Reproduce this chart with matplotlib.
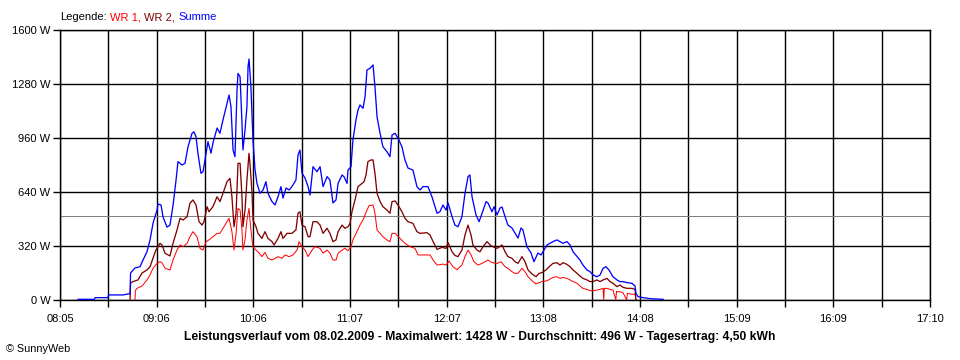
import numpy as np
import matplotlib
matplotlib.use("Agg")
import matplotlib.pyplot as plt

plt.rcParams['font.family'] = ['Liberation Sans', 'DejaVu Sans']

# time axis: minutes after 08:05, axis runs until 17:10
span = 545
x_labels = ["08:05", "09:06", "10:06", "11:07", "12:07", "13:08", "14:08", "15:09", "16:09", "17:10"]
y_ticks = [0, 320, 640, 960, 1280, 1600]
average = 496

# Summe (blue)
t_sum = [11.3, 21.5, 22.0, 30.0, 30.5, 39.5, 42.6, 43.9, 44.2, 47.0,
         50.1, 52.0, 54.5, 56.4, 58.3, 60.8, 61.4, 63.3, 64.5, 67.0,
         68.9, 70.8, 72.7, 73.9, 76.4, 78.3, 80.2, 82.7, 83.9, 85.2,
         86.4, 88.3, 89.6, 90.8, 92.7, 94.6, 95.8, 98.4, 100.2, 102.1,
         104.6, 105.9, 107.1, 108.4, 109.6, 110.9, 111.5, 112.8, 114.0, 114.6,
         115.9, 117.1, 117.8, 118.4, 119.6, 120.9, 122.2, 123.4, 125.3, 127.2,
         129.0, 130.3, 132.8, 134.7, 136.6, 138.4, 139.7, 141.6, 143.5, 145.3,
         147.8, 149.1, 150.3, 151.6, 153.5, 155.4, 156.6, 158.5, 161.0, 162.9,
         164.8, 167.3, 169.1, 171.0, 172.9, 174.2, 176.7, 177.9, 179.8, 180.4,
         182.3, 183.5, 185.4, 186.7, 187.9, 189.8, 191.1, 192.3, 194.2, 196.1,
         197.3, 198.6, 200.5, 202.3, 204.8, 206.7, 208.0, 209.9, 211.7, 214.2,
         216.1, 218.0, 221.1, 223.6, 225.5, 227.4, 230.5, 233.0, 236.2, 238.0,
         239.9, 241.8, 243.1, 245.6, 247.4, 249.3, 251.8, 253.7, 255.6, 256.8,
         258.1, 260.6, 262.5, 264.4, 266.9, 268.1, 270.6, 271.9, 273.8, 275.6,
         276.9, 278.8, 280.6, 283.1, 285.0, 286.9, 288.8, 290.0, 292.5, 295.1,
         296.9, 299.4, 301.3, 302.6, 305.1, 307.0, 308.8, 311.3, 313.2, 315.1,
         317.6, 319.5, 321.4, 323.9, 325.7, 327.6, 330.1, 332.0, 333.9, 336.4,
         338.3, 340.2, 342.0, 343.9, 346.4, 348.9, 350.8, 352.7, 355.2, 358.3,
         360.2, 360.8, 362.1, 365.2, 369.6, 377.8]
p_sum = [4, 4, 14, 14, 30, 30, 36, 36, 160, 190,
         197, 237, 286, 356, 456, 533, 569, 563, 494, 432,
         444, 560, 711, 820, 800, 810, 908, 988, 997, 968,
         870, 751, 760, 830, 938, 870, 930, 1019, 988, 1067,
         1166, 1215, 1146, 889, 849, 1244, 1343, 1323, 1047, 889,
         1007, 1146, 1383, 1428, 1264, 948, 770, 691, 632, 652,
         701, 632, 583, 563, 612, 672, 604, 664, 652, 672,
         711, 859, 889, 751, 723, 672, 622, 790, 760, 790,
         672, 731, 711, 575, 593, 691, 741, 731, 691, 770,
         790, 948, 1067, 1126, 1156, 1136, 1205, 1363, 1373, 1393,
         1264, 1086, 988, 908, 879, 849, 978, 988, 960, 908,
         830, 782, 770, 672, 652, 672, 672, 612, 514, 523,
         563, 533, 575, 494, 444, 434, 494, 632, 731, 741,
         612, 504, 464, 514, 583, 575, 523, 553, 504, 545,
         551, 494, 444, 427, 397, 367, 427, 415, 316, 278,
         227, 278, 267, 286, 326, 336, 346, 356, 346, 336,
         346, 326, 286, 257, 237, 207, 178, 168, 148, 138,
         148, 188, 197, 178, 138, 119, 109, 109, 103, 99,
         83, 40, 20, 14, 8, 4]

# WR 2 (dark red)
t_wr2 = [43.9, 44.2, 45.7, 48.9, 51.4, 54.5, 56.4, 58.3, 60.1, 62.6,
         63.9, 65.8, 68.9, 70.8, 73.3, 75.2, 77.1, 79.6, 81.4, 83.3,
         85.2, 87.1, 89.0, 90.2, 92.1, 93.3, 95.8, 98.4, 100.2, 102.1,
         104.6, 106.5, 107.7, 109.0, 110.3, 111.5, 112.8, 114.0, 114.6, 115.9,
         117.1, 118.4, 119.0, 120.3, 120.9, 122.8, 124.0, 126.5, 128.4, 130.3,
         132.8, 134.1, 136.6, 138.4, 139.7, 142.2, 145.3, 147.8, 149.1, 150.3,
         151.6, 153.5, 155.4, 156.6, 158.5, 161.0, 162.9, 164.8, 167.3, 169.1,
         171.0, 172.9, 174.2, 176.7, 178.5, 180.4, 181.7, 182.9, 184.8, 186.7,
         189.2, 190.4, 191.7, 192.9, 194.8, 196.1, 197.3, 198.6, 200.5, 202.3,
         204.8, 206.7, 208.0, 209.9, 211.7, 214.2, 216.1, 218.0, 221.1, 223.6,
         225.5, 229.9, 231.8, 233.7, 236.2, 239.3, 241.8, 243.1, 245.6, 247.4,
         249.3, 251.8, 253.7, 255.6, 257.5, 258.7, 261.2, 263.1, 265.0, 267.5,
         269.4, 271.2, 273.8, 276.9, 278.8, 280.6, 283.1, 285.0, 286.9, 289.4,
         291.3, 293.2, 295.7, 298.2, 300.1, 301.9, 304.4, 307.0, 308.8, 311.3,
         313.2, 315.1, 317.6, 319.5, 321.4, 323.9, 325.7, 327.6, 330.1, 332.0,
         333.9, 336.4, 338.3, 340.2, 342.7, 344.5, 346.4, 348.9, 350.8, 352.7,
         355.2, 358.3, 360.2, 360.8]
p_wr2 = [0, 100, 109, 119, 160, 178, 197, 249, 296, 336,
         326, 277, 261, 336, 415, 484, 474, 494, 573, 593,
         563, 464, 444, 464, 553, 523, 553, 612, 583, 632,
         701, 721, 612, 434, 514, 810, 810, 612, 434, 533,
         711, 869, 810, 632, 474, 434, 395, 365, 405, 365,
         346, 326, 365, 405, 365, 395, 395, 415, 514, 523,
         444, 434, 375, 375, 464, 464, 444, 395, 425, 395,
         346, 356, 405, 444, 425, 434, 454, 523, 593, 672,
         691, 700, 741, 820, 830, 830, 751, 632, 583, 553,
         533, 514, 583, 587, 563, 523, 484, 464, 454, 405,
         395, 399, 385, 346, 300, 312, 306, 340, 286, 264,
         257, 296, 385, 444, 385, 326, 296, 286, 316, 346,
         326, 316, 306, 326, 286, 257, 247, 227, 217, 257,
         227, 178, 154, 138, 158, 162, 178, 202, 217, 221,
         207, 221, 211, 197, 178, 158, 142, 128, 119, 109,
         109, 119, 109, 119, 128, 109, 99, 79, 89, 75,
         69, 69, 63, 0]

# WR 1 (red)
t_wr1 = [47.0, 47.2, 48.2, 51.4, 54.5, 56.4, 58.3, 60.8, 62.6, 63.9,
         65.8, 68.9, 70.8, 73.3, 75.2, 77.1, 79.6, 81.4, 83.3, 85.8,
         87.7, 89.6, 91.5, 93.3, 95.8, 98.4, 100.2, 102.1, 104.6, 105.9,
         107.7, 109.0, 110.3, 111.5, 112.8, 114.0, 114.6, 115.9, 117.1, 118.4,
         119.0, 120.3, 120.9, 122.8, 124.0, 126.5, 128.4, 130.3, 132.8, 134.7,
         136.6, 139.1, 141.0, 143.5, 146.0, 148.5, 149.7, 151.6, 153.5, 155.4,
         157.9, 159.7, 162.9, 164.8, 167.3, 169.1, 171.0, 172.9, 174.2, 176.7,
         178.5, 180.4, 182.3, 183.5, 186.0, 187.9, 189.8, 192.3, 193.6, 196.1,
         197.3, 198.6, 200.5, 202.3, 204.8, 206.7, 208.0, 209.9, 213.0, 216.1,
         219.3, 222.4, 224.3, 227.4, 231.8, 233.7, 236.2, 239.9, 241.8, 243.7,
         246.2, 248.7, 251.8, 253.7, 255.6, 257.5, 259.3, 261.8, 264.4, 266.2,
         268.1, 270.6, 273.8, 276.3, 278.8, 280.6, 283.1, 285.0, 286.9, 289.4,
         291.3, 293.2, 295.7, 298.2, 300.1, 301.9, 305.1, 307.6, 308.8, 311.3,
         313.2, 315.1, 317.6, 319.5, 321.4, 323.9, 325.7, 327.6, 330.1, 332.0,
         333.9, 336.4, 338.3, 340.2, 340.6, 341.0, 342.7, 344.5, 346.4, 348.2,
         348.6, 348.9, 350.8, 352.7, 355.0, 355.4, 358.3, 360.2, 360.8]
p_wr1 = [0, 55, 69, 83, 119, 148, 188, 217, 227, 221,
         188, 178, 237, 296, 326, 316, 336, 375, 405, 375,
         306, 296, 346, 356, 375, 395, 395, 425, 464, 484,
         405, 296, 395, 543, 533, 415, 296, 356, 474, 543,
         474, 356, 316, 296, 286, 257, 282, 247, 237, 247,
         257, 247, 267, 257, 267, 296, 346, 316, 296, 257,
         296, 316, 306, 277, 296, 277, 237, 237, 277, 296,
         306, 292, 316, 356, 405, 444, 474, 533, 559, 563,
         514, 415, 395, 375, 356, 346, 395, 395, 365, 336,
         316, 306, 267, 267, 267, 237, 207, 213, 207, 231,
         197, 180, 207, 257, 296, 267, 227, 207, 217, 227,
         237, 221, 217, 227, 197, 188, 168, 158, 158, 188,
         168, 138, 114, 95, 103, 109, 114, 128, 134, 138,
         128, 134, 128, 119, 109, 99, 83, 69, 63, 55,
         55, 59, 63, 69, 0, 69, 69, 63, 59, 0,
         52, 49, 49, 43, 0, 40, 34, 34, 0]

px = 0.72  # one pixel at 100 dpi, in points

fig = plt.figure(figsize=(9.6, 3.6), dpi=100)
ax = fig.add_axes([60 / 960, 60 / 360, 870 / 960, 270 / 360])

ax.axhline(average, color="#808080", lw=px, zorder=2)
ax.plot(t_wr1, p_wr1, color="#ff0000", lw=px, zorder=3)
ax.plot(t_wr2, p_wr2, color="#800000", lw=px * 1.3, zorder=4)
ax.plot(t_sum, p_sum, color="#0000ff", lw=px * 1.3, zorder=5)

major = np.linspace(0, span, len(x_labels))
ax.set_xlim(0, span)
ax.set_ylim(0, 1600)
ax.set_xticks(major)
ax.set_xticklabels(x_labels)
ax.set_xticks((major[:-1] + major[1:]) / 2, minor=True)
ax.set_yticks(y_ticks)
ax.set_yticklabels([f"{v} W" for v in y_ticks])

ax.grid(True, which="both", color="black", lw=px * 1.4)
ax.set_axisbelow(True)
ax.tick_params(which="both", direction="out", length=5, width=px * 1.4, colors="black", labelsize=8)
ax.tick_params(axis="x", pad=5)
ax.tick_params(axis="y", pad=2)
for s in ax.spines.values():
    s.set_linewidth(px * 1.4)

# legend line on top
t0 = fig.text(60 / 960, 1 - 17 / 360, "Legende:", fontsize=8, va="center", ha="left")
prev = t0
for label, col in [("WR 1,", "#ff0000"), ("WR 2,", "#800000"), ("Summe", "#0000ff")]:
    prev = ax.annotate(label, xy=(1, 0), xycoords=prev, xytext=(2.5, 0), textcoords="offset points",
                       va="bottom", ha="left", fontsize=8, color=col, annotation_clip=False)

fig.text(0.5, 1 - 337 / 360,
         "Leistungsverlauf vom 08.02.2009 - Maximalwert: 1428 W - Durchschnitt: 496 W - Tagesertrag: 4,50 kWh",
         fontsize=8.7, fontweight="bold", ha="center", va="center")
fig.text(6 / 960, 1 - 349 / 360, "\u00a9 SunnyWeb", fontsize=7.8, ha="left", va="center")

fig.savefig("out.png", dpi=100, facecolor="white")
